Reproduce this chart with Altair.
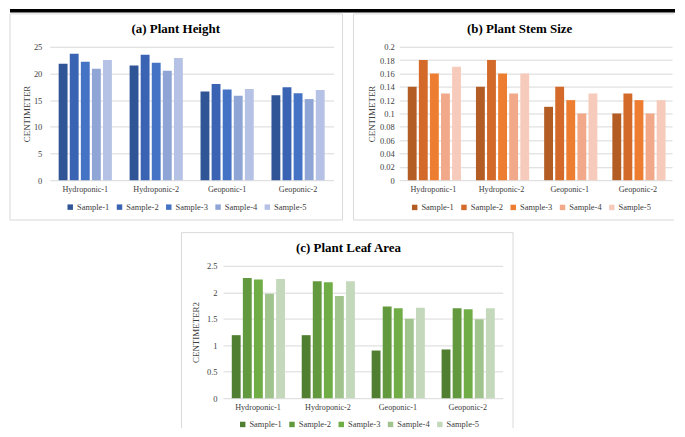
import altair as alt
import pandas as pd

SERIF = "Liberation Serif"
TXT = "#404040"
GRID = "#D9D9D9"
BORDER = "#D9D9D9"

groups = ["Hydroponic-1", "Hydroponic-2", "Geoponic-1", "Geoponic-2"]
samples = ["Sample-1", "Sample-2", "Sample-3", "Sample-4", "Sample-5"]

# (a) Plant Height, one row per group, one value per sample
height_vals = [
    [21.8, 23.7, 22.2, 20.9, 22.5],
    [21.5, 23.5, 22.0, 20.5, 22.9],
    [16.6, 18.0, 17.0, 15.8, 17.1],
    [15.9, 17.4, 16.3, 15.2, 16.9],
]
# (b) Plant Stem Size
stem_vals = [
    [0.14, 0.18, 0.16, 0.13, 0.17],
    [0.14, 0.18, 0.16, 0.13, 0.16],
    [0.11, 0.14, 0.12, 0.10, 0.13],
    [0.10, 0.13, 0.12, 0.10, 0.12],
]
# (c) Plant Leaf Area
leaf_vals = [
    [1.19, 2.27, 2.24, 1.97, 2.25],
    [1.19, 2.21, 2.19, 1.93, 2.21],
    [0.90, 1.73, 1.70, 1.50, 1.71],
    [0.92, 1.70, 1.68, 1.49, 1.70],
]

height_ticks = [0, 5, 10, 15, 20, 25]
stem_ticks = [0, 0.02, 0.04, 0.06, 0.08, 0.1, 0.12, 0.14, 0.16, 0.18, 0.2]
leaf_ticks = [0, 0.5, 1, 1.5, 2, 2.5]

blues = ["#2F5597", "#3A63B3", "#4472C4", "#8FA5D5", "#B5C2E5"]
oranges = ["#B35C23", "#D36A2A", "#ED7D31", "#F1A98A", "#F6CBBB"]
greens = ["#517F32", "#62993E", "#70AD47", "#A1C48F", "#C4D9BB"]


def hrule(x1, x2, y, one):
    return alt.Chart(one).mark_rule(color=BORDER, strokeWidth=1).encode(
        x=alt.value(x1), x2=alt.value(x2), y=alt.value(y))


def vrule(x, y1, y2, one):
    return alt.Chart(one).mark_rule(color=BORDER, strokeWidth=1).encode(
        x=alt.value(x), y=alt.value(y1), y2=alt.value(y2))


def make_panel(vals, colors, ticks, title, ytitle, W, H, title_x, ytitle_x,
               label_pad, legend_x, legend_y, sides):
    rows = []
    for g, row in zip(groups, vals):
        for s, v in zip(samples, row):
            rows.append({"group": g, "sample": s, "value": v})
    df = pd.DataFrame(rows)
    one = pd.DataFrame({"t": [title]})

    bars = alt.Chart(df).mark_bar().encode(
        x=alt.X("group:N", sort=groups, title=None,
                scale=alt.Scale(paddingInner=0.25, paddingOuter=0.125),
                axis=alt.Axis(labelAngle=0, ticks=False, tickSize=0, domain=False,
                              grid=False, labelFont=SERIF, labelFontSize=8.2,
                              labelColor=TXT, labelPadding=5)),
        xOffset=alt.XOffset("sample:N", sort=samples,
                            scale=alt.Scale(paddingInner=0.2, paddingOuter=0)),
        y=alt.Y("value:Q",
                scale=alt.Scale(domain=[0, ticks[-1]], nice=False, zero=True),
                axis=alt.Axis(values=ticks, format="~g", title=ytitle,
                              domain=False, ticks=False, tickSize=0, grid=True,
                              gridColor=GRID, gridWidth=1,
                              labelFont=SERIF, labelFontSize=8.5, labelColor=TXT,
                              labelPadding=label_pad,
                              titleFont=SERIF, titleFontSize=9,
                              titleFontWeight="normal", titleColor=TXT,
                              titleX=ytitle_x, titleY=H / 2, titleAngle=270,
                              titleAlign="center", titleBaseline="middle")),
        color=alt.Color("sample:N", sort=samples,
                        scale=alt.Scale(domain=samples, range=colors),
                        legend=alt.Legend(title=None, orient="none",
                                          legendX=legend_x, legendY=legend_y,
                                          direction="horizontal",
                                          symbolType="square", symbolSize=30,
                                          symbolStrokeWidth=0,
                                          labelFont=SERIF, labelFontSize=8.5,
                                          labelColor=TXT, labelOffset=2.5,
                                          columnPadding=5.5)),
    )

    ttl = alt.Chart(one).mark_text(
        font=SERIF, fontSize=13, fontWeight="bold", align="center",
        baseline="alphabetic", color="#000000"
    ).encode(text="t:N", x=alt.value(title_x), y=alt.value(-14))

    frame = []
    for kind, a, b, c in sides:
        if kind == "h":
            frame.append(hrule(a, b, c, one))
        else:
            frame.append(vrule(a, b, c, one))

    return alt.layer(*frame, bars, ttl).properties(width=W, height=H)


pa = make_panel(height_vals, blues, height_ticks, "(a) Plant Height", "CENTIMETER",
                285, 134, 126.5, -23, 8, 16.25, 156.7,
                [("h", -40, 294, -33), ("h", -40, 294, 174),
                 ("v", -40, -33, 174), ("v", 294, -33, 174)])

pb = make_panel(stem_vals, oranges, stem_ticks, "(b) Plant Stem Size", "CENTIMETER",
                274, 134, 121, -28.3, 5, 11.25, 157,
                [("h", -46, 276, -33), ("h", -46, 276, 174),
                 ("v", -46, -33, 174)])

pc = make_panel(leaf_vals, greens, leaf_ticks, "(c) Plant Leaf Area", "CENTIMETER2",
                281, 133, 126, -27.4, 6, 15.5, 155,
                [("h", -41.7, 291.3, -33.3),
                 ("v", -41.7, -33.3, 163), ("v", 291.3, -33.3, 163)])

one_row = pd.DataFrame({"a": [0]})
top_bar = alt.Chart(one_row).mark_rule(color="#000000", strokeWidth=3.5).encode(
    x=alt.value(-40), x2=alt.value(628), y=alt.value(1.75)
).properties(width=628, height=3)

spacer = alt.Chart(one_row).mark_point(opacity=0).encode(
    x=alt.value(0), y=alt.value(0)
).properties(width=131, height=1)

row1 = alt.hconcat(pa, pb, spacing=9).resolve_scale(color="independent")
row2 = alt.hconcat(spacer, pc, spacing=0).resolve_scale(color="independent")
body = alt.vconcat(row1, row2, spacing=11).resolve_scale(color="independent")

chart = alt.vconcat(top_bar, body, spacing=0).resolve_scale(
    color="independent"
).properties(padding=0, background="white").configure_view(strokeWidth=0)

chart.save("out.html", embed_options={"renderer": "svg", "actions": False})
